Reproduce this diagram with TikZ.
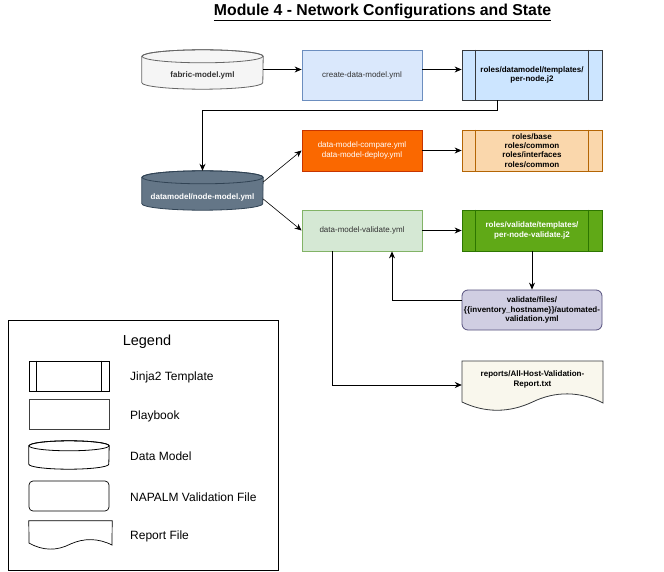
\documentclass[tikz,border=0pt]{standalone}
\usepackage{fontspec}
\setmainfont{Liberation Sans}
\usetikzlibrary{arrows.meta,calc,backgrounds}
\definecolor{fabfill}{HTML}{F5F5F5}
\definecolor{fabdraw}{HTML}{666666}
\definecolor{txtgray}{HTML}{333333}
\definecolor{bluefill}{HTML}{DAE8FC}
\definecolor{bluedraw}{HTML}{6C8EBF}
\definecolor{tblfill}{HTML}{CCE5FF}
\definecolor{darkdraw}{HTML}{36393D}
\definecolor{slatefill}{HTML}{647687}
\definecolor{slatedraw}{HTML}{314354}
\definecolor{orfill}{HTML}{FA6800}
\definecolor{ordraw}{HTML}{C73500}
\definecolor{peachfill}{HTML}{FAD7AC}
\definecolor{peachdraw}{HTML}{B46504}
\definecolor{grfill}{HTML}{D5E8D4}
\definecolor{grdraw}{HTML}{82B366}
\definecolor{dgfill}{HTML}{60A917}
\definecolor{dgdraw}{HTML}{2D7600}
\definecolor{purfill}{HTML}{D0CEE2}
\definecolor{purdraw}{HTML}{56517E}
\definecolor{repfill}{HTML}{F9F7ED}
\newcommand\cylshape[5]{%
  \path[fill=#4,draw=#5,line width=0.8pt] ($(#1.north west)+(0,#3)$) -- ($(#1.south west)+(0,-#3)$)
    arc[start angle=180,end angle=360,x radius=#2pt,y radius=#3pt]
    -- ($(#1.north east)+(0,#3)$)
    arc[start angle=0,end angle=180,x radius=#2pt,y radius=#3pt] -- cycle;
  \draw[draw=#5,line width=0.8pt] ($(#1.north)+(0,#3)$) ellipse[x radius=#2pt,y radius=#3pt];
}
\newcommand\tbars[3]{%
  \draw[draw=#3,line width=0.8pt] ($(#1.north west)+(#2,0)$) -- ($(#1.south west)+(#2,0)$);
  \draw[draw=#3,line width=0.8pt] ($(#1.north east)+(-#2,0)$) -- ($(#1.south east)+(-#2,0)$);
}
\begin{document}
\begin{tikzpicture}[x=1pt,y=-1pt,
  txt/.style={font=\fontsize{8}{9.2}\selectfont, align=center},
  btxt/.style={font=\fontsize{8}{9.2}\selectfont\bfseries, align=center},
  box/.style={rectangle, line width=0.8pt, inner sep=0pt},
  plain/.style={rectangle, draw=none, inner sep=0pt},
  arr/.style={line width=0.8pt, -{Stealth[length=7pt,width=6pt]}},
  legtxt/.style={font=\fontsize{12}{14}\selectfont, anchor=west, inner sep=0pt},
  legbox/.style={rectangle, draw=black, line width=0.7pt, fill=white, inner sep=0pt, minimum width=80pt, minimum height=30pt}
]
\useasboundingbox (0,0) rectangle (664,572);
\begin{scope}[on background layer]
\fill[white] (0,0) rectangle (664,572);
\end{scope}

% title
\node (title) at (382.5,12.5) {\fontsize{15.8}{18}\selectfont\bfseries\underline{Module 4 - Network Configurations and State}};

% row 1
\node[plain, minimum width=121pt, minimum height=39pt,
  label={[txt, text=txtgray, font=\fontsize{8}{9.2}\selectfont\bfseries, yshift=-6pt]center:fabric-model.yml}] (fab) at (202.5,69.5) {};
\node[box, draw=bluedraw, fill=bluefill, minimum width=120pt, minimum height=50pt, txt, text=txtgray] (cdm) at (362,75) {create-data-model.yml};
\node[box, draw=darkdraw, fill=tblfill, minimum width=140pt, minimum height=50pt, btxt] (tdm) at (532,75) {roles/datamodel/templates/\\per-node.j2};

% row 2
\node[plain, minimum width=121pt, minimum height=39pt,
  label={[btxt, text=white, yshift=-6.5pt]center:datamodel/node-model.yml}] (nm) at (202.5,190.5) {};
\node[box, draw=ordraw, fill=orfill, minimum width=120pt, minimum height=41pt, txt, text=white] (cmp) at (362,150.5) {data-model-compare.yml\\data-model-deploy.yml};
\node[box, draw=peachdraw, fill=peachfill, minimum width=140pt, minimum height=41pt, btxt] (tbase) at (532,150.5) {roles/base\\roles/common\\roles/interfaces\\roles/common};

% row 3
\node[box, draw=grdraw, fill=grfill, minimum width=120pt, minimum height=41pt, txt, text=txtgray] (val) at (362,230.5) {data-model-validate.yml};
\node[box, draw=dgdraw, fill=dgfill, minimum width=140pt, minimum height=41pt, btxt, text=white] (tval) at (532,230.5) {roles/validate/templates/\\per-node-validate.j2};

\node[box, draw=purdraw, fill=purfill, rounded corners=6pt, minimum width=140pt, minimum height=40pt, btxt] (nap) at (532,310) {validate/files/\\\{\{inventory\_hostname\}\}/automated-\\validation.yml};

\node[plain, minimum width=141pt, minimum height=42pt, btxt] (rep) at (532.5,379.5) {reports/All-Host-Validation-\\Report.txt};

\begin{scope}[on background layer]
  \cylshape{fab}{60.5}{6.5}{fabfill}{fabdraw}
  \cylshape{nm}{60.5}{6.5}{slatefill}{slatedraw}
  \path[fill=repfill, draw=darkdraw, line width=0.8pt] (462,361) -- (603,361) -- (603,403)
    .. controls (580,391) and (555,391) .. (532.5,402)
    .. controls (509,413) and (485,413) .. (462,402) -- cycle;
\end{scope}
\tbars{tdm}{14}{darkdraw}
\tbars{tbase}{14}{peachdraw}
\tbars{tval}{14}{dgdraw}

% connectors
\draw[arr] (fab.east) -- (cdm.west |- fab.east);
\draw[arr] (cdm.east |- fab.east) -- (tdm.west |- fab.east);
\coordinate (k1) at (497,110);
\draw[arr] (tdm.south -| k1) -- (k1) -| (nm.north);
\draw[arr, line width=0.6pt] ([yshift=8.5pt]nm.east) -- (cmp.west);
\draw[arr, line width=0.6pt] ([yshift=-8.5pt]nm.east) -- (val.west);
\draw[arr] (cmp.east) -- (tbase.west);
\draw[arr] (val.east) -- (tval.west);
\draw[arr] (tval.south) -- (nap.north);
\coordinate (k2) at (392,300);
\draw[arr] (nap.west |- k2) -| (val.south -| k2);
\coordinate (k3) at (332,385);
\draw[arr] (val.south -| k3) |- (rep.west |- k3);

% legend
\node[rectangle, draw=black, line width=0.8pt, minimum width=270pt, minimum height=250pt, anchor=north west, inner sep=0pt] (legend) at (8,320) {};
\node[font=\fontsize{14.5}{16}\selectfont] (legtitle) at (147,342) {Legend};
\node[legbox] (lt) at (69,376) {};
\draw[line width=0.7pt] ($(lt.north west)+(8,0)$) -- ($(lt.south west)+(8,0)$);
\draw[line width=0.7pt] ($(lt.north east)+(-8,0)$) -- ($(lt.south east)+(-8,0)$);
\node[legbox, draw=black!75] (lp) at (69,414) {};
\node[plain, minimum width=80pt, minimum height=28pt] (lc) at (69,455) {};
\cylshape{lc}{40}{5}{white}{black}
\node[legbox, rounded corners=4pt] (ln) at (69,496) {};
\node[plain, minimum width=83pt, minimum height=27pt] (lr) at (70.5,534.5) {};
\path[fill=white, draw=black, line width=0.7pt] (lr.north west) -- (lr.north east) -- (112,545)
    .. controls (98,538) and (84,538) .. (70.5,544)
    .. controls (57,551) and (43,551) .. (29,543) -- cycle;
\node[legtxt] (l1) at (130,377) {Jinja2 Template};
\node[legtxt] (l2) at (130,416) {Playbook};
\node[legtxt] (l3) at (130,456) {Data Model};
\node[legtxt] (l4) at (130,497) {NAPALM Validation File};
\node[legtxt] (l5) at (130,536) {Report File};
\end{tikzpicture}
\end{document}
